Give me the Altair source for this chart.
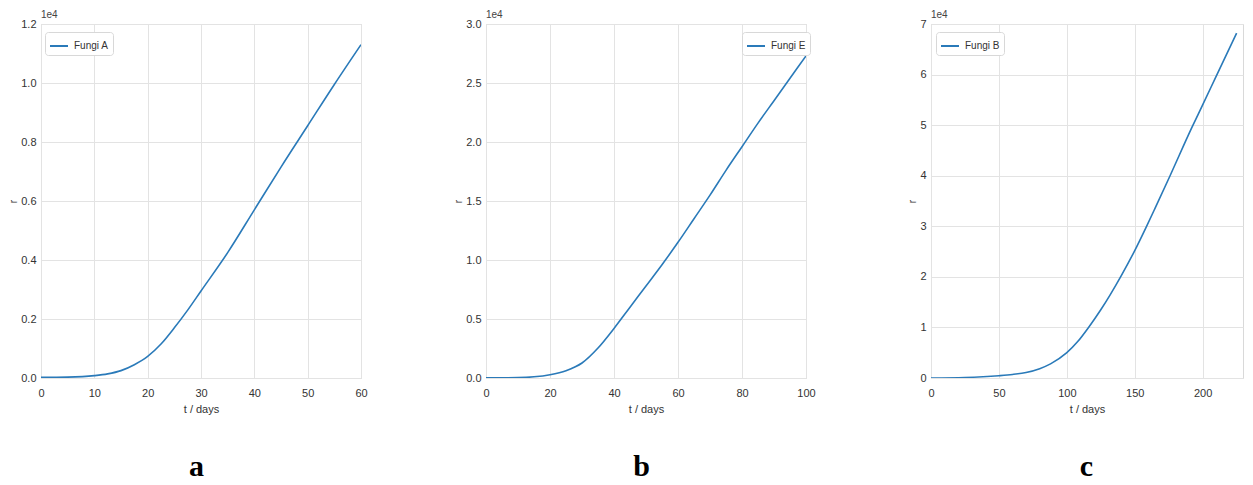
import altair as alt
import pandas as pd

# ---- data (r values) ----
t_a = [0, 5, 10, 12.5, 15, 17.5, 20, 22.5, 25, 27.5, 30, 35, 40, 45, 50, 55, 60]
r_a = [20, 30, 80, 140, 250, 450, 730, 1150, 1700, 2300, 2950, 4250, 5700, 7150, 8550, 9950, 11300]

t_e = [0, 10, 15, 20, 25, 30, 35, 40, 45, 50, 55, 60, 65, 70, 75, 80, 85, 90, 95, 100]
r_e = [10, 30, 100, 280, 620, 1270, 2540, 4200, 6000, 7800, 9600, 11500, 13500, 15500, 17600,
       19600, 21600, 23500, 25400, 27300]

t_b = [0, 25, 50, 60, 70, 80, 88, 100, 108, 116, 125, 132, 140, 150, 158, 165, 176, 192, 200, 210, 225]
r_b = [0, 100, 450, 700, 1100, 1850, 2800, 5000, 7200, 10000, 13500, 16500, 20200, 25200, 29600,
       33600, 40000, 49500, 54000, 59700, 68200]

names = ["Fungi A", "Fungi E", "Fungi B"]
letters = ["a", "b", "c"]
x_max = [60, 100, 229.7]
x_ticks = [[0, 10, 20, 30, 40, 50, 60], [0, 20, 40, 60, 80, 100], [0, 50, 100, 150, 200]]
y_max = [1.2, 3.0, 7]
y_ticks = [[0, 0.2, 0.4, 0.6, 0.8, 1.0, 1.2], [0, 0.5, 1.0, 1.5, 2.0, 2.5, 3.0], [0, 1, 2, 3, 4, 5, 6, 7]]
y_fmt = [".1f", ".1f", "d"]
legend_x = [4, 256, 5]
widths = [320, 320, 312]

BLUE = "#2a7ab9"
SANS = "Liberation Sans Narrow, Liberation Sans, Arial, sans-serif"


def panel(t, r, name, xmax, xt, ymax, yt, yf, letter, lx, w):
    df = pd.DataFrame({"t": t, "r": r, "series": [name] * len(t)})
    line = alt.Chart(df).transform_calculate(rs="datum.r / 10000").mark_line(
        strokeWidth=1.6, clip=True, interpolate="monotone"
    ).encode(
        x=alt.X("t:Q", scale=alt.Scale(domain=[0, xmax], nice=False, zero=False),
                axis=alt.Axis(values=xt, title="t / days", labelFlush=False, format="d")),
        y=alt.Y("rs:Q", scale=alt.Scale(domain=[0, ymax], nice=False),
                axis=alt.Axis(values=yt, title="r", format=yf)),
        color=alt.Color("series:N", scale=alt.Scale(range=[BLUE]),
                        legend=alt.Legend(title=None, orient="none", legendX=lx, legendY=8,
                                          fillColor="white", strokeColor="#d8d8d8",
                                          cornerRadius=3, padding=4,
                                          symbolType="stroke", symbolSize=324,
                                          symbolStrokeWidth=2, labelFontSize=10,
                                          labelFont=SANS, labelColor="#333",
                                          labelOffset=5)),
    )
    off = alt.Chart(pd.DataFrame({"txt": ["1e4"]})).mark_text(
        align="left", baseline="bottom", fontSize=10, font=SANS, color="#444"
    ).encode(x=alt.value(0), y=alt.value(-4), text="txt:N")
    return alt.layer(line, off).properties(
        width=w, height=354,
        title=alt.TitleParams(letter, orient="bottom", anchor="middle", font="Liberation Serif",
                              fontSize=30, fontWeight="bold", color="black", offset=38,
                              dx=-5 + (321 - w) / 2),
    )


panels = [
    panel(t_a, r_a, names[0], x_max[0], x_ticks[0], y_max[0], y_ticks[0], y_fmt[0], letters[0], legend_x[0], widths[0]),
    panel(t_e, r_e, names[1], x_max[1], x_ticks[1], y_max[1], y_ticks[1], y_fmt[1], letters[1], legend_x[1], widths[1]),
    panel(t_b, r_b, names[2], x_max[2], x_ticks[2], y_max[2], y_ticks[2], y_fmt[2], letters[2], legend_x[2], widths[2]),
]

chart = alt.hconcat(*panels, spacing=125, bounds="flush").resolve_scale(
    color="independent"
).resolve_legend(color="independent").properties(
    padding={"left": 0, "top": 1, "right": 0, "bottom": 0}, background="white"
).configure_view(
    stroke="#d9d9d9", strokeWidth=1
).configure_axis(
    domain=False, ticks=False, grid=True, gridColor="#e3e3e3", gridWidth=1,
    labelFont=SANS, labelFontSize=11, labelColor="#333",
    titleFont=SANS, titleFontSize=10, titleColor="#333", titleFontWeight="normal",
    labelPadding=5, titlePadding=2,
).configure_axisX(
    labelPadding=9, titlePadding=5, titleFontSize=11
)

chart.save("out.html", embed_options={"renderer": "svg", "actions": False})
